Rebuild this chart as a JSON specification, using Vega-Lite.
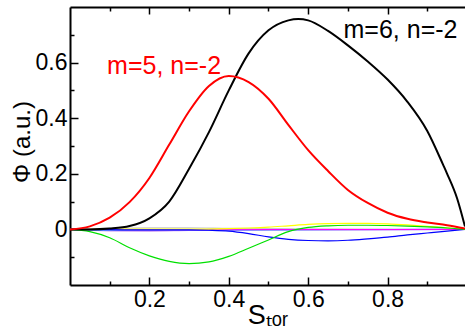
{
  "$schema": "https://vega.github.io/schema/vega-lite/v6.json",
  "width": 395,
  "height": 278,
  "autosize": {"type": "none"},
  "padding": {"left": 70, "top": 7, "right": 0, "bottom": 41},
  "background": "white",
  "config": {
    "view": {"stroke": null},
    "font": "Liberation Sans",
    "axis": {
      "labelFont": "Liberation Sans",
      "labelFontSize": 23,
      "labelColor": "black",
      "titleFont": "Liberation Sans",
      "titleFontWeight": "normal",
      "titleColor": "black",
      "domainColor": "black",
      "domainWidth": 2,
      "tickColor": "black",
      "tickWidth": 1.5,
      "grid": false,
      "labelFlush": false,
      "labelOverlap": false
    }
  },
  "datasets": {
    "curves": [
      {"s": "gray", "x": 0, "y": 0}, {"s": "gray", "x": 0.1, "y": 0.004}, {"s": "gray", "x": 0.2, "y": 0.006}, {"s": "gray", "x": 0.3, "y": 0.006}, {"s": "gray", "x": 0.4, "y": 0.004}, {"s": "gray", "x": 0.6, "y": 0.002}, {"s": "gray", "x": 0.995, "y": 0},
      {"s": "lavender", "x": 0, "y": 0}, {"s": "lavender", "x": 0.1, "y": -0.005}, {"s": "lavender", "x": 0.2, "y": -0.006}, {"s": "lavender", "x": 0.3, "y": -0.004}, {"s": "lavender", "x": 0.5, "y": -0.002}, {"s": "lavender", "x": 0.995, "y": 0},
      {"s": "cyan", "x": 0, "y": 0}, {"s": "cyan", "x": 0.1, "y": -0.003}, {"s": "cyan", "x": 0.3, "y": -0.003}, {"s": "cyan", "x": 0.5, "y": -0.002}, {"s": "cyan", "x": 0.7, "y": -0.001}, {"s": "cyan", "x": 0.995, "y": 0},
      {"s": "magenta", "x": 0, "y": 0}, {"s": "magenta", "x": 0.2, "y": -0.002}, {"s": "magenta", "x": 0.5, "y": -0.001}, {"s": "magenta", "x": 0.8, "y": -0.001}, {"s": "magenta", "x": 0.995, "y": 0},
      {"s": "yellow", "x": 0, "y": 0}, {"s": "yellow", "x": 0.2, "y": 0.001}, {"s": "yellow", "x": 0.3, "y": 0.001}, {"s": "yellow", "x": 0.4, "y": 0.003}, {"s": "yellow", "x": 0.45, "y": 0.005}, {"s": "yellow", "x": 0.5, "y": 0.008}, {"s": "yellow", "x": 0.55, "y": 0.013}, {"s": "yellow", "x": 0.6, "y": 0.018}, {"s": "yellow", "x": 0.65, "y": 0.021}, {"s": "yellow", "x": 0.7, "y": 0.022}, {"s": "yellow", "x": 0.75, "y": 0.022}, {"s": "yellow", "x": 0.8, "y": 0.02}, {"s": "yellow", "x": 0.85, "y": 0.016}, {"s": "yellow", "x": 0.9, "y": 0.011}, {"s": "yellow", "x": 0.95, "y": 0.006}, {"s": "yellow", "x": 0.995, "y": 0},
      {"s": "blue", "x": 0, "y": 0}, {"s": "blue", "x": 0.1, "y": -0.001}, {"s": "blue", "x": 0.2, "y": -0.002}, {"s": "blue", "x": 0.3, "y": -0.002}, {"s": "blue", "x": 0.35, "y": -0.003}, {"s": "blue", "x": 0.4, "y": -0.006}, {"s": "blue", "x": 0.45, "y": -0.015}, {"s": "blue", "x": 0.5, "y": -0.027}, {"s": "blue", "x": 0.55, "y": -0.036}, {"s": "blue", "x": 0.6, "y": -0.04}, {"s": "blue", "x": 0.65, "y": -0.041}, {"s": "blue", "x": 0.7, "y": -0.039}, {"s": "blue", "x": 0.75, "y": -0.034}, {"s": "blue", "x": 0.8, "y": -0.028}, {"s": "blue", "x": 0.85, "y": -0.02}, {"s": "blue", "x": 0.9, "y": -0.013}, {"s": "blue", "x": 0.95, "y": -0.006}, {"s": "blue", "x": 0.995, "y": 0},
      {"s": "green", "x": 0, "y": 0}, {"s": "green", "x": 0.05, "y": -0.008}, {"s": "green", "x": 0.1, "y": -0.03}, {"s": "green", "x": 0.15, "y": -0.066}, {"s": "green", "x": 0.2, "y": -0.095}, {"s": "green", "x": 0.25, "y": -0.115}, {"s": "green", "x": 0.3, "y": -0.123}, {"s": "green", "x": 0.35, "y": -0.117}, {"s": "green", "x": 0.4, "y": -0.097}, {"s": "green", "x": 0.45, "y": -0.068}, {"s": "green", "x": 0.5, "y": -0.038}, {"s": "green", "x": 0.55, "y": -0.008}, {"s": "green", "x": 0.6, "y": 0.007}, {"s": "green", "x": 0.65, "y": 0.013}, {"s": "green", "x": 0.7, "y": 0.015}, {"s": "green", "x": 0.75, "y": 0.015}, {"s": "green", "x": 0.8, "y": 0.014}, {"s": "green", "x": 0.85, "y": 0.012}, {"s": "green", "x": 0.9, "y": 0.009}, {"s": "green", "x": 0.95, "y": 0.005}, {"s": "green", "x": 0.995, "y": 0},
      {"s": "m=6, n=-2", "x": 0, "y": 0}, {"s": "m=6, n=-2", "x": 0.05, "y": 0}, {"s": "m=6, n=-2", "x": 0.1, "y": 0.003}, {"s": "m=6, n=-2", "x": 0.15, "y": 0.012}, {"s": "m=6, n=-2", "x": 0.2, "y": 0.04}, {"s": "m=6, n=-2", "x": 0.25, "y": 0.1}, {"s": "m=6, n=-2", "x": 0.3, "y": 0.218}, {"s": "m=6, n=-2", "x": 0.35, "y": 0.35}, {"s": "m=6, n=-2", "x": 0.4, "y": 0.5}, {"s": "m=6, n=-2", "x": 0.45, "y": 0.633}, {"s": "m=6, n=-2", "x": 0.5, "y": 0.716}, {"s": "m=6, n=-2", "x": 0.55, "y": 0.752}, {"s": "m=6, n=-2", "x": 0.575, "y": 0.757}, {"s": "m=6, n=-2", "x": 0.6, "y": 0.752}, {"s": "m=6, n=-2", "x": 0.65, "y": 0.714}, {"s": "m=6, n=-2", "x": 0.7, "y": 0.662}, {"s": "m=6, n=-2", "x": 0.75, "y": 0.604}, {"s": "m=6, n=-2", "x": 0.8, "y": 0.539}, {"s": "m=6, n=-2", "x": 0.85, "y": 0.459}, {"s": "m=6, n=-2", "x": 0.9, "y": 0.354}, {"s": "m=6, n=-2", "x": 0.94, "y": 0.232}, {"s": "m=6, n=-2", "x": 0.95, "y": 0.2}, {"s": "m=6, n=-2", "x": 0.975, "y": 0.112}, {"s": "m=6, n=-2", "x": 0.995, "y": 0.01},
      {"s": "m=5, n=-2", "x": 0, "y": 0}, {"s": "m=5, n=-2", "x": 0.05, "y": 0.011}, {"s": "m=5, n=-2", "x": 0.1, "y": 0.042}, {"s": "m=5, n=-2", "x": 0.15, "y": 0.098}, {"s": "m=5, n=-2", "x": 0.2, "y": 0.185}, {"s": "m=5, n=-2", "x": 0.25, "y": 0.305}, {"s": "m=5, n=-2", "x": 0.3, "y": 0.425}, {"s": "m=5, n=-2", "x": 0.35, "y": 0.516}, {"s": "m=5, n=-2", "x": 0.4, "y": 0.552}, {"s": "m=5, n=-2", "x": 0.45, "y": 0.53}, {"s": "m=5, n=-2", "x": 0.5, "y": 0.47}, {"s": "m=5, n=-2", "x": 0.55, "y": 0.376}, {"s": "m=5, n=-2", "x": 0.6, "y": 0.285}, {"s": "m=5, n=-2", "x": 0.65, "y": 0.21}, {"s": "m=5, n=-2", "x": 0.7, "y": 0.142}, {"s": "m=5, n=-2", "x": 0.75, "y": 0.095}, {"s": "m=5, n=-2", "x": 0.8, "y": 0.06}, {"s": "m=5, n=-2", "x": 0.85, "y": 0.038}, {"s": "m=5, n=-2", "x": 0.9, "y": 0.025}, {"s": "m=5, n=-2", "x": 0.95, "y": 0.015}, {"s": "m=5, n=-2", "x": 0.995, "y": 0.003}
    ],
    "labels": [
      {"s": "m=5, n=-2", "x": 0.237, "y": 0.559, "text": "m=5, n=-2"},
      {"s": "m=6, n=-2", "x": 0.8325, "y": 0.6885, "text": "m=6, n=-2"}
    ]
  },
  "resolve": {"axis": {"x": "independent", "y": "independent"}},
  "layer": [
    {
      "data": {"name": "curves"},
      "transform": [{"filter": {"not": {"field": "s", "oneOf": ["m=5, n=-2", "m=6, n=-2"]}}}],
      "mark": {"type": "line", "strokeWidth": 1.2, "interpolate": "monotone", "clip": true},
      "encoding": {
        "x": {
          "field": "x", "type": "quantitative",
          "scale": {"domain": [0, 0.995], "nice": false, "zero": false},
          "axis": {
            "orient": "bottom",
            "values": [0.1, 0.2, 0.3, 0.4, 0.5, 0.6, 0.7, 0.8, 0.9],
            "labelExpr": "round(datum.value*10)%2==0 ? format(datum.value, '.1f') : ''",
            "tickSize": {"condition": {"test": "round(datum.value*10)%2==0", "value": -8}, "value": -4},
            "labelPadding": 11,
            "title": "Sₜₒᵣ",
            "titleFontSize": 27,
            "titlePadding": -13
          }
        },
        "y": {
          "field": "y", "type": "quantitative",
          "scale": {"domain": [-0.2, 0.8], "nice": false, "zero": false},
          "axis": {
            "orient": "left",
            "values": [-0.1, 0, 0.1, 0.2, 0.3, 0.4, 0.5, 0.6, 0.7],
            "labelExpr": "abs(round(datum.value*10))%2==0 ? (datum.value == 0 ? '0' : format(datum.value, '.1f')) : ''",
            "tickSize": {"condition": {"test": "abs(round(datum.value*10))%2==0", "value": -8}, "value": -4},
            "labelPadding": 11,
            "title": "Φ (a.u.)",
            "titleFontSize": 24,
            "titlePadding": 1,
            "titleY": 134.5
          }
        },
        "color": {
          "field": "s", "type": "nominal",
          "scale": {
            "domain": ["gray", "lavender", "cyan", "magenta", "yellow", "blue", "green", "m=6, n=-2", "m=5, n=-2"],
            "range": ["#c8c8c8", "#c890f0", "#00e0ff", "#ff00ff", "#ffff00", "#0000ff", "#00e000", "#000000", "#ff0000"]
          },
          "legend": null
        }
      }
    },
    {
      "data": {"name": "curves"},
      "transform": [{"filter": {"field": "s", "oneOf": ["m=5, n=-2", "m=6, n=-2"]}}],
      "mark": {"type": "line", "strokeWidth": 2, "interpolate": "monotone", "clip": true},
      "encoding": {
        "x": {"field": "x", "type": "quantitative", "axis": null},
        "y": {"field": "y", "type": "quantitative", "axis": null},
        "color": {"field": "s", "type": "nominal", "legend": null}
      }
    },
    {
      "data": {"name": "labels"},
      "mark": {"type": "text", "fontSize": 25, "font": "Liberation Sans", "align": "center", "baseline": "alphabetic"},
      "encoding": {
        "x": {
          "field": "x", "type": "quantitative",
          "axis": {
            "orient": "top",
            "values": [0.1, 0.2, 0.3, 0.4, 0.5, 0.6, 0.7, 0.8, 0.9],
            "labels": false,
            "title": null,
            "tickSize": {"condition": {"test": "round(datum.value*10)%2==0", "value": -7}, "value": -4}
          }
        },
        "y": {"field": "y", "type": "quantitative", "axis": null},
        "text": {"field": "text"},
        "color": {"field": "s", "type": "nominal", "legend": null}
      }
    }
  ]
}
